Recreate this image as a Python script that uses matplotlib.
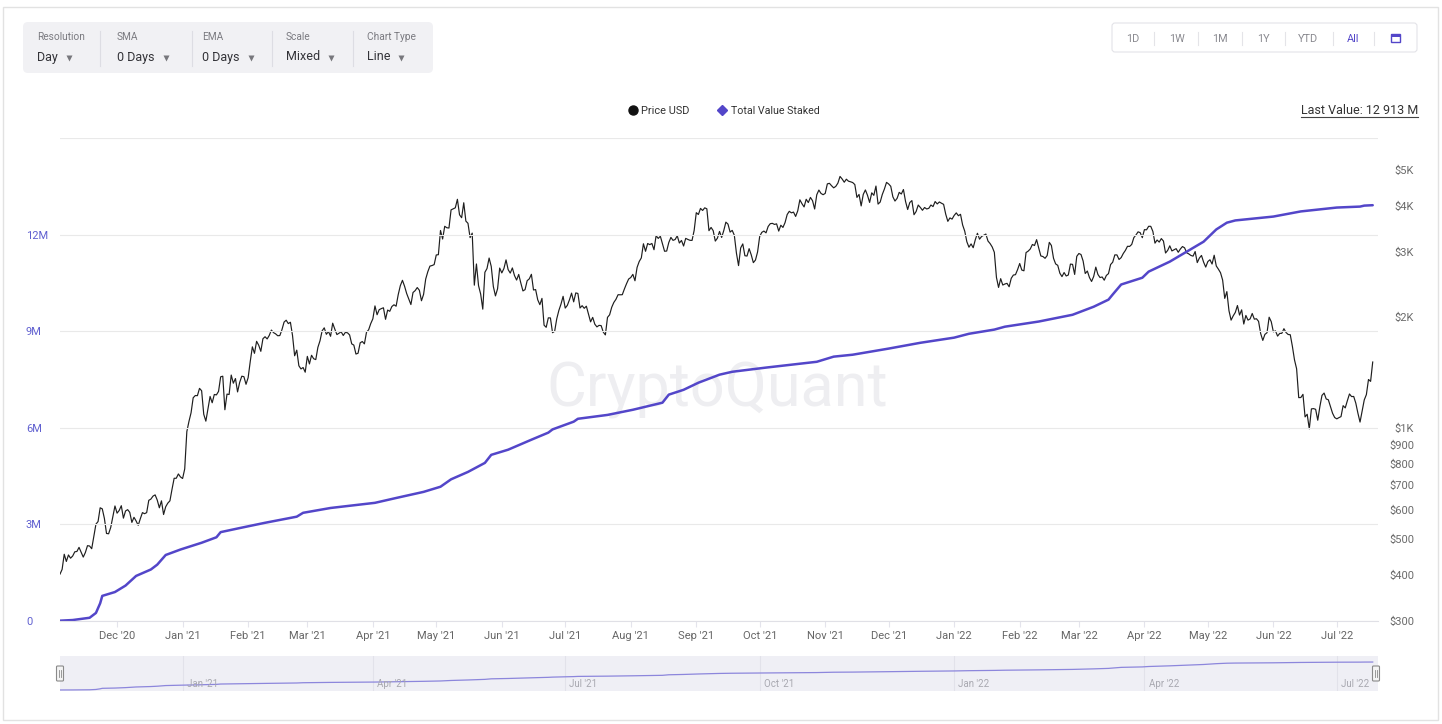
import numpy as np
import pandas as pd
import matplotlib
matplotlib.use('Agg')
import matplotlib.pyplot as plt
import matplotlib.dates as mdates
from matplotlib.patches import FancyBboxPatch, Rectangle
from matplotlib.ticker import FixedLocator, FixedFormatter, FuncFormatter

plt.rcParams['font.family'] = ['Roboto', 'DejaVu Sans']

# ---- data ----
# daily ETH price, USD, from 2020-11-04 to 2022-07-18
price_start = '2020-11-04'
price_usd = [
    # Nov 2020 (4-30)
    402, 414, 455, 435, 453, 444, 450, 462, 463, 475, 461, 447, 460, 480, 479, 471, 509, 549, 558, 608,
    604, 569, 518, 517, 538, 575, 615,
    # Dec 2020
    588, 598, 616, 570, 596, 601, 591, 555, 573, 560, 545, 568, 590, 586, 590, 637, 642, 654, 659, 638,
    608, 635, 583, 612, 626, 635, 683, 731, 731, 751, 737,
    # Jan 2021
    730, 775, 978, 1042, 1100, 1208, 1225, 1224, 1281, 1262, 1090, 1044, 1130, 1218, 1171, 1233, 1230,
    1257, 1377, 1382, 1121, 1236, 1233, 1392, 1323, 1362, 1253, 1330, 1382, 1378, 1314,
    # Feb 2021
    1369, 1515, 1660, 1594, 1718, 1677, 1614, 1746, 1768, 1744, 1783, 1843, 1814, 1800, 1779, 1781, 1848,
    1937, 1960, 1919, 1935, 1781, 1570, 1626, 1475, 1446, 1459, 1417,
    # Mar 2021
    1564, 1492, 1575, 1541, 1533, 1655, 1724, 1834, 1869, 1795, 1826, 1773, 1924, 1854, 1792, 1807, 1823,
    1782, 1817, 1812, 1788, 1691, 1678, 1587, 1595, 1702, 1716, 1691, 1819, 1846, 1919,
    # Apr 2021
    1977, 2143, 2028, 2093, 2107, 2118, 1971, 2088, 2072, 2135, 2158, 2139, 2299, 2432, 2514, 2423, 2315,
    2236, 2161, 2330, 2357, 2403, 2363, 2213, 2303, 2534, 2653, 2747, 2757, 2773,
    # May 2021
    2945, 2950, 3431, 3253, 3522, 3490, 3484, 3902, 3928, 3952, 4168, 3785, 3715, 4079, 3638, 3588, 3282,
    3375, 2439, 2784, 2431, 2307, 2100, 2643, 2706, 2889, 2742, 2418, 2281, 2385, 2714,
    # Jun 2021
    2633, 2706, 2856, 2688, 2630, 2716, 2590, 2518, 2608, 2472, 2353, 2372, 2508, 2537, 2610, 2367, 2373,
    2226, 2160, 2246, 1900, 1875, 1989, 1988, 1813, 1829, 1978, 2084, 2167, 2275,
    # Jul 2021
    2114, 2150, 2226, 2321, 2198, 2324, 2316, 2115, 2146, 2111, 2139, 2036, 1940, 1995, 1912, 1880, 1898,
    1895, 1820, 1788, 1995, 2027, 2125, 2190, 2233, 2298, 2297, 2298, 2382, 2461, 2534,
    # Aug 2021
    2558, 2609, 2507, 2725, 2827, 2891, 3158, 3013, 3163, 3141, 3164, 3043, 3322, 3265, 3310, 3156, 3014,
    3018, 3183, 3286, 3226, 3243, 3319, 3173, 3224, 3114, 3266, 3245, 3227, 3225, 3434,
    # Sep 2021
    3834, 3791, 3938, 3887, 3952, 3928, 3427, 3497, 3427, 3211, 3270, 3410, 3286, 3428, 3614, 3570, 3397,
    3433, 3330, 2978, 2756, 3077, 3155, 2931, 2925, 3063, 2947, 2807, 2853, 3001,
    # Oct 2021
    3307, 3391, 3418, 3381, 3518, 3580, 3587, 3563, 3576, 3418, 3545, 3497, 3605, 3790, 3867, 3830, 3848,
    3745, 3878, 4155, 4055, 3974, 4169, 4084, 4217, 4131, 3923, 4288, 4415, 4324, 4289,
    # Nov 2021
    4324, 4589, 4605, 4536, 4477, 4518, 4611, 4807, 4731, 4637, 4725, 4667, 4649, 4627, 4569, 4217, 4297,
    3999, 4298, 4419, 4273, 4087, 4340, 4272, 4527, 4045, 4097, 4295, 4445, 4632,
    # Dec 2021
    4587, 4520, 4233, 4123, 4192, 4352, 4308, 4430, 4112, 3911, 4084, 4135, 3786, 3862, 4021, 3961, 3892,
    3960, 3924, 3940, 4022, 3983, 4110, 4049, 4099, 4067, 4039, 3799, 3632, 3711, 3683,
    # Jan 2022
    3769, 3829, 3762, 3795, 3551, 3416, 3198, 3091, 3155, 3081, 3239, 3371, 3250, 3306, 3331, 3355, 3212,
    3162, 3095, 2994, 2560, 2405, 2540, 2441, 2457, 2467, 2415, 2546, 2598, 2604, 2688,
    # Feb 2022
    2792, 2680, 2668, 2989, 3016, 3057, 3144, 3124, 3240, 3075, 2927, 2916, 2884, 2935, 3186, 3124, 2884,
    2785, 2760, 2628, 2573, 2639, 2583, 2599, 2782, 2777, 2608, 2920,
    # Mar 2022
    2972, 2953, 2836, 2623, 2664, 2558, 2496, 2575, 2730, 2608, 2558, 2567, 2516, 2592, 2621, 2774, 2815,
    2946, 2946, 2863, 2897, 2972, 3030, 3109, 3106, 3145, 3282, 3336, 3402, 3385, 3281,
    # Apr 2022
    3449, 3445, 3522, 3521, 3411, 3170, 3233, 3191, 3262, 3212, 2981, 3030, 3118, 3020, 3042, 3063, 2995,
    3056, 3104, 3079, 2986, 2964, 2936, 2923, 3008, 2808, 2889, 2936, 2816, 2730,
    # May 2022
    2826, 2858, 2783, 2940, 2749, 2695, 2636, 2518, 2246, 2343, 2080, 1961, 2014, 2058, 2148, 2024, 2091,
    1914, 2019, 1961, 1976, 2044, 1973, 1978, 1946, 1803, 1728, 1794, 1813, 1997, 1942,
    # Jun 2022
    1823, 1834, 1775, 1805, 1806, 1859, 1815, 1793, 1790, 1665, 1530, 1447, 1209, 1210, 1234, 1072, 1090,
    995, 1127, 1129, 1124, 1050, 1143, 1226, 1244, 1199, 1193, 1144, 1097, 1068,
    # Jul 2022 (1-18)
    1059, 1067, 1074, 1150, 1134, 1186, 1237, 1217, 1218, 1168, 1097, 1038, 1112, 1192, 1232, 1354, 1338,
    1510,
]

# total value staked, million ETH
staked_dates = [
    '2020-11-04', '2020-11-10', '2020-11-18', '2020-11-21', '2020-11-23', '2020-11-24', '2020-11-30',
    '2020-12-05', '2020-12-10', '2020-12-17', '2020-12-20', '2020-12-24', '2020-12-31', '2021-01-10',
    '2021-01-17', '2021-01-19', '2021-01-29', '2021-02-09', '2021-02-24', '2021-02-27', '2021-03-12',
    '2021-04-02', '2021-04-12', '2021-04-25', '2021-05-03', '2021-05-08', '2021-05-16', '2021-05-24',
    '2021-05-27', '2021-06-04', '2021-06-15', '2021-06-23', '2021-06-25', '2021-07-05', '2021-07-07',
    '2021-07-21', '2021-08-02', '2021-08-16', '2021-08-19', '2021-08-26', '2021-09-02', '2021-09-12',
    '2021-09-18', '2021-10-04', '2021-10-28', '2021-11-05', '2021-11-14', '2021-12-01', '2021-12-16',
    '2022-01-01', '2022-01-08', '2022-01-20', '2022-01-25', '2022-02-10', '2022-02-26', '2022-03-08',
    '2022-03-15', '2022-03-17', '2022-03-21', '2022-03-31', '2022-04-03', '2022-04-13', '2022-04-21',
    '2022-04-29', '2022-05-05', '2022-05-10', '2022-05-14', '2022-06-01', '2022-06-14', '2022-07-01',
    '2022-07-12', '2022-07-14', '2022-07-18',
]
staked_m = [
    0.01, 0.03, 0.10, 0.25, 0.55, 0.78, 0.90,
    1.10, 1.40, 1.60, 1.75, 2.05, 2.22, 2.43,
    2.60, 2.76, 2.90, 3.05, 3.24, 3.36, 3.51,
    3.67, 3.82, 4.01, 4.17, 4.40, 4.63, 4.91,
    5.16, 5.32, 5.63, 5.85, 5.95, 6.19, 6.28,
    6.40, 6.56, 6.78, 7.03, 7.18, 7.40, 7.65,
    7.74, 7.87, 8.05, 8.21, 8.27, 8.46, 8.64,
    8.80, 8.92, 9.05, 9.14, 9.30, 9.51, 9.76,
    9.98, 10.14, 10.45, 10.66, 10.85, 11.16, 11.47,
    11.78, 12.16, 12.37, 12.44, 12.56, 12.72, 12.84,
    12.87, 12.90, 12.913,
]

left_ticks = [0, 3, 6, 9, 12]
left_labels = ['0', '3M', '6M', '9M', '12M']
right_ticks = [300, 400, 500, 600, 700, 800, 900, 1000, 2000, 3000, 4000, 5000]
right_labels = ['$300', '$400', '$500', '$600', '$700', '$800', '$900', '$1K', '$2K', '$3K', '$4K', '$5K']
nav_ticks = ['2021-01-01', '2021-04-01', '2021-07-01', '2021-10-01', '2022-01-01', '2022-04-01', '2022-07-01']
nav_labels = ["Jan '21", "Apr '21", "Jul '21", "Oct '21", "Jan '22", "Apr '22", "Jul '22"]
controls = [('Resolution', 'Day'), ('SMA', '0 Days'), ('EMA', '0 Days'), ('Scale', 'Mixed'), ('Chart Type', 'Line')]
ranges = ['1D', '1W', '1M', '1Y', 'YTD', 'All']

price_dates = pd.date_range(price_start, periods=len(price_usd), freq='D')
staked_dt = pd.to_datetime(staked_dates)

PURPLE = '#5346c9'
W, H = 1442, 724
fig = plt.figure(figsize=(W / 100, H / 100), dpi=100)
fig.patch.set_facecolor('white')

# background layer in pixel coords (y down)
bg = fig.add_axes([0, 0, 1, 1])
bg.set_xlim(0, W)
bg.set_ylim(H, 0)
bg.axis('off')

bg.add_patch(Rectangle((3, 7), 1435, 713, fill=False, ec='#e2e2e2', lw=1))

# control panel
bg.add_patch(FancyBboxPatch((23, 22), 410, 51, boxstyle='round,pad=0,rounding_size=5',
                            fc='#f1f1f4', ec='none'))
ctrl_x = [37, 117, 202, 286, 367]
tri_x = [69, 166, 251, 331, 401]
for (lab, val), x, tx in zip(controls, ctrl_x, tri_x):
    bg.text(x, 37, lab, fontsize=7.3, color='#7a7a80', va='center', ha='left')
    bg.text(x, 57, val, fontsize=9, color='#333338', va='center', ha='left')
    bg.plot(tx, 57.5, marker='v', ms=5, color='#77777c', mec='none')
for x in [100, 192, 272, 353]:
    bg.plot([x, x], [31, 66], color='#dddde3', lw=0.8)

# range buttons
bg.add_patch(FancyBboxPatch((1112, 23), 305, 29, boxstyle='round,pad=0,rounding_size=3',
                            fc='white', ec='#e3e3e8', lw=0.8))
for lab, x in zip(ranges, [1133, 1177, 1220, 1263, 1308, 1353]):
    bg.text(x, 38.5, lab, fontsize=7.8, color=PURPLE if lab == 'All' else '#8a8a90',
            va='center', ha='center')
for x in [1154, 1198, 1242, 1285, 1333, 1374]:
    bg.plot([x, x], [32, 45], color='#e4e4e8', lw=0.8)
bg.add_patch(Rectangle((1391, 34), 9, 8, fill=False, ec=PURPLE, lw=1.0))
bg.add_patch(Rectangle((1391, 34), 9, 2.5, fc=PURPLE, ec='none'))

# legend
bg.plot(633, 110, marker='o', ms=6.5, color='#111111', mec='#111111')
bg.text(641, 110.5, 'Price USD', fontsize=7.9, color='#333', va='center', ha='left')
bg.plot(722, 110, marker='D', ms=5, color=PURPLE, mec=PURPLE)
bg.text(731, 110.5, 'Total Value Staked', fontsize=7.7, color='#333', va='center', ha='left')

lv = bg.text(1418, 110, 'Last Value: 12 913 M', fontsize=9, color='#333', va='center', ha='right')
fig.canvas.draw()
bb = lv.get_window_extent()
bg.plot([bb.x0, bb.x1], [117, 117], color='#444', lw=0.8)

# watermark
bg.text(717, 390, 'CryptoQuant', fontsize=44, color='#eeeef1', ha='center', va='center', zorder=0)

# ---- main chart ----
x0, x1, ytop, ybot = 60, 1378, 138, 621
ax = fig.add_axes([x0 / W, 1 - ybot / H, (x1 - x0) / W, (ybot - ytop) / H])
ax2 = ax.twinx()
ax.set_zorder(ax2.get_zorder() + 1)
ax.patch.set_visible(False)
ax2.patch.set_visible(False)

ax2.plot(price_dates, price_usd, color='#1e1e1e', lw=0.85)
ax2.set_yscale('log')
ax2.set_ylim(300, 6110)

ax.plot(staked_dt, staked_m, color=PURPLE, lw=1.8, solid_capstyle='round')
ax.set_ylim(0, 15)

xmin, xmax = pd.Timestamp('2020-11-04'), pd.Timestamp('2022-07-20 12:00')
ax.set_xlim(xmin, xmax)

ax.yaxis.set_major_locator(FixedLocator([0, 3, 6, 9, 12, 15]))
ax.yaxis.set_major_formatter(FuncFormatter(
    lambda v, p: left_labels[left_ticks.index(int(round(v)))] if int(round(v)) in left_ticks else ''))
ax.grid(axis='y', color='#e9e9e9', lw=0.8)
ax.tick_params(axis='y', length=0, pad=24.5, labelsize=8, labelcolor='#6060d0')
for t in ax.get_yticklabels():
    t.set_ha('left')

ax2.yaxis.set_major_locator(FixedLocator(right_ticks))
ax2.yaxis.set_major_formatter(FixedFormatter(right_labels))
ax2.yaxis.set_minor_locator(FixedLocator([]))
ax2.tick_params(axis='y', which='both', length=0, pad=26, labelsize=8, labelcolor='#6a6a6a')
for t in ax2.get_yticklabels():
    t.set_ha('right')

ax.xaxis.set_major_locator(mdates.MonthLocator())
ax.xaxis.set_major_formatter(mdates.DateFormatter("%b '%y"))
ax.tick_params(axis='x', length=4, width=0.8, color='#e4e4ec', pad=3.5, labelsize=8, labelcolor='#666')

for a in (ax, ax2):
    for s in ['top', 'left', 'right']:
        a.spines[s].set_visible(False)
ax.spines['bottom'].set_color('#e0e0e6')
ax2.spines['bottom'].set_visible(False)

# ---- navigator ----
nav = fig.add_axes([x0 / W, 1 - 691 / H, (x1 - x0) / W, 35 / H])
nav.set_facecolor('#efeff5')
nav.plot(staked_dt, staked_m, color='#8c86dc', lw=0.9)
nav.set_xlim(xmin, xmax)
nav.set_ylim(-0.46, 15.7)
nav.set_xticks([])
nav.set_yticks([])
for s in nav.spines.values():
    s.set_visible(False)
for d, lab in zip(pd.to_datetime(nav_ticks), nav_labels):
    nav.axvline(d, color='#e2e2ea', lw=0.8, zorder=0)
    nav.annotate(lab, (mdates.date2num(d), 0.2), xycoords=nav.get_xaxis_transform(),
                 xytext=(3, 0), textcoords='offset points', fontsize=7, color='#a8a8b0',
                 ha='left', va='center')

# navigator handles, drawn on a top layer
fg = fig.add_axes([0, 0, 1, 1])
fg.set_xlim(0, W)
fg.set_ylim(H, 0)
fg.axis('off')
fg.patch.set_visible(False)
for hx in [60, 1376]:
    fg.add_patch(FancyBboxPatch((hx - 3.5, 666), 7, 15, boxstyle='round,pad=0,rounding_size=1',
                                fc='#f4f4f4', ec='#8a8a8a', lw=0.8))
    fg.plot([hx - 1, hx - 1], [670, 677], color='#8a8a8a', lw=0.6)
    fg.plot([hx + 1, hx + 1], [670, 677], color='#8a8a8a', lw=0.6)

fig.savefig('out.png', dpi=100, facecolor='white')
